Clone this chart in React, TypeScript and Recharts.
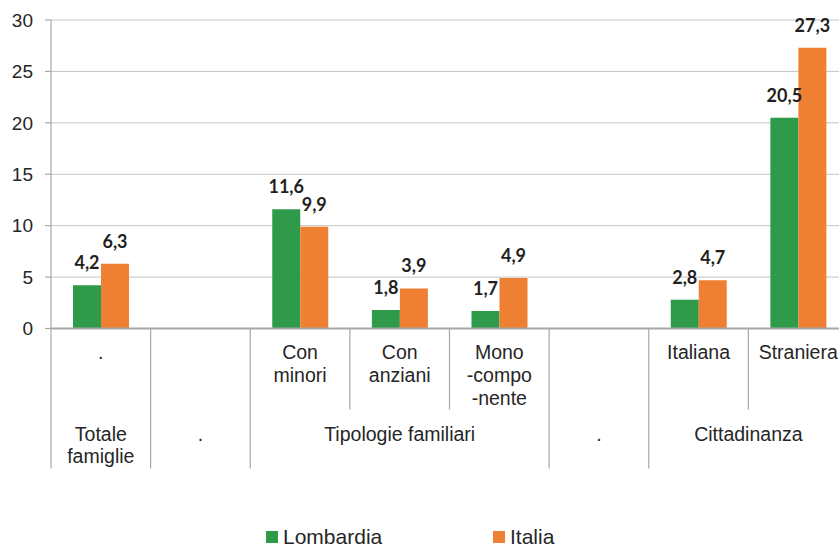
import { BarChart, Bar, XAxis, YAxis, CartesianGrid, Legend, LabelList } from "recharts";

// Categories along the x axis (empty slots act as spacers between groups)
const categories = ["Totale famiglie", "vuoto1", "Con minori", "Con anziani", "Mono-componente", "vuoto2", "Italiana", "Straniera"];
const lombardia = [4.2, null, 11.6, 1.8, 1.7, null, 2.8, 20.5];
const italia = [6.3, null, 9.9, 3.9, 4.9, null, 4.7, 27.3];

// first-row tick labels, one per slot, split in lines
const tickLabels = [["."], [], ["Con", "minori"], ["Con", "anziani"], ["Mono", "-compo", "-nente"], [], ["Italiana"], ["Straniera"]];

// second-row group labels
const groups = [
  { label: ["Totale", "famiglie"], start: 0, span: 1 },
  { label: ["."], start: 1, span: 1 },
  { label: ["Tipologie familiari"], start: 2, span: 3 },
  { label: ["."], start: 5, span: 1 },
  { label: ["Cittadinanza"], start: 6, span: 2 },
];

const yTicks = [0, 5, 10, 15, 20, 25, 30];

const data = categories.map((name, i) => ({ name, lombardia: lombardia[i], italia: italia[i] }));

const GREEN = "#2e9a4a";
const ORANGE = "#ee7f33";
const AXIS = "#a8a8a8";
const TEXT = "#262626";
const FONT = "'Liberation Sans', Arial, sans-serif";

const PLOT_W = 797;
const SLOT = PLOT_W / categories.length;

const isGroupEdge = (k: number) => groups.some((g) => g.start === k || g.start + g.span === k);

const CategoryTick = (props: any) => {
  const { x, y, payload } = props;
  const i = payload.index;
  const half = SLOT / 2;
  const lines = tickLabels[i] || [];
  const group = groups.find((g) => g.start === i);
  return (
    <g>
      {i === 0 && <line x1={x - half} x2={x - half} y1={y} y2={y + 140} stroke={AXIS} strokeWidth={1.2} />}
      <line x1={x + half} x2={x + half} y1={y} y2={y + (isGroupEdge(i + 1) ? 140 : 81)} stroke={AXIS} strokeWidth={1.2} />
      {lines.length > 0 && (
        <text x={x} y={y + 30} textAnchor="middle" fill={TEXT} fontSize={19.5} fontFamily={FONT}>
          {lines.map((l, j) => (
            <tspan key={j} x={x} dy={j === 0 ? 0 : 23}>
              {l}
            </tspan>
          ))}
        </text>
      )}
      {group && (
        <text x={x + (group.span - 1) * half} y={y + 112} textAnchor="middle" fill={TEXT} fontSize={19.5} fontFamily={FONT}>
          {group.label.map((l, j) => (
            <tspan key={j} x={x + (group.span - 1) * half} dy={j === 0 ? 0 : 22}>
              {l}
            </tspan>
          ))}
        </text>
      )}
    </g>
  );
};

const renderLegend = () => (
  <div style={{ display: "flex", fontFamily: FONT, fontSize: 21, color: TEXT, lineHeight: "18px" }}>
    {[
      { name: "Lombardia", color: GREEN },
      { name: "Italia", color: ORANGE },
    ].map((s) => (
      <div key={s.name} style={{ display: "flex", alignItems: "center", width: 227, height: 18 }}>
        <span style={{ width: 12, height: 12, background: s.color, marginRight: 5, display: "inline-block" }} />
        <span>{s.name}</span>
      </div>
    ))}
  </div>
);

const fmt = (v: any) => (v == null ? "" : Number(v).toFixed(1).replace(".", ","));

const labelStyle = { fill: "#231f20", fontSize: 18, fontWeight: 700, fontFamily: "Lato, 'Open Sans', sans-serif" };

const App = () => {
  return (
    <div style={{ position: "absolute", left: 0, top: 0, width: 839, height: 550, overflow: "hidden", background: "#fff" }}>
      <BarChart width={860} height={550} data={data} margin={{ top: 20, right: 12, bottom: 81.5, left: 0 }} barSize={28} barGap={0}>
        <CartesianGrid vertical={false} stroke="#c4c4c4" />
        <XAxis
          dataKey="name"
          interval={0}
          height={140}
          tickSize={0}
          tickMargin={0}
          tickLine={false}
          axisLine={{ stroke: AXIS, strokeWidth: 2 }}
          tick={<CategoryTick />}
        />
        <YAxis
          width={51}
          domain={[0, 30]}
          ticks={yTicks}
          interval={0}
          tickSize={6}
          tickMargin={12}
          axisLine={{ stroke: AXIS, strokeWidth: 1.2 }}
          tickLine={{ stroke: AXIS, strokeWidth: 1.2 }}
          tick={{ fill: TEXT, fontSize: 19, fontFamily: FONT }}
        />
        <Legend
          layout="horizontal"
          verticalAlign="middle"
          align="center"
          wrapperStyle={{ left: 266, top: 528, width: 460 }}
          content={renderLegend}
        />
        <Bar dataKey="lombardia" name="Lombardia" fill={GREEN} isAnimationActive={false}>
          <LabelList dataKey="lombardia" position="top" offset={16} formatter={fmt} style={labelStyle} />
        </Bar>
        <Bar dataKey="italia" name="Italia" fill={ORANGE} isAnimationActive={false}>
          <LabelList dataKey="italia" position="top" offset={16} formatter={fmt} style={labelStyle} />
        </Bar>
      </BarChart>
    </div>
  );
};

export default App;
